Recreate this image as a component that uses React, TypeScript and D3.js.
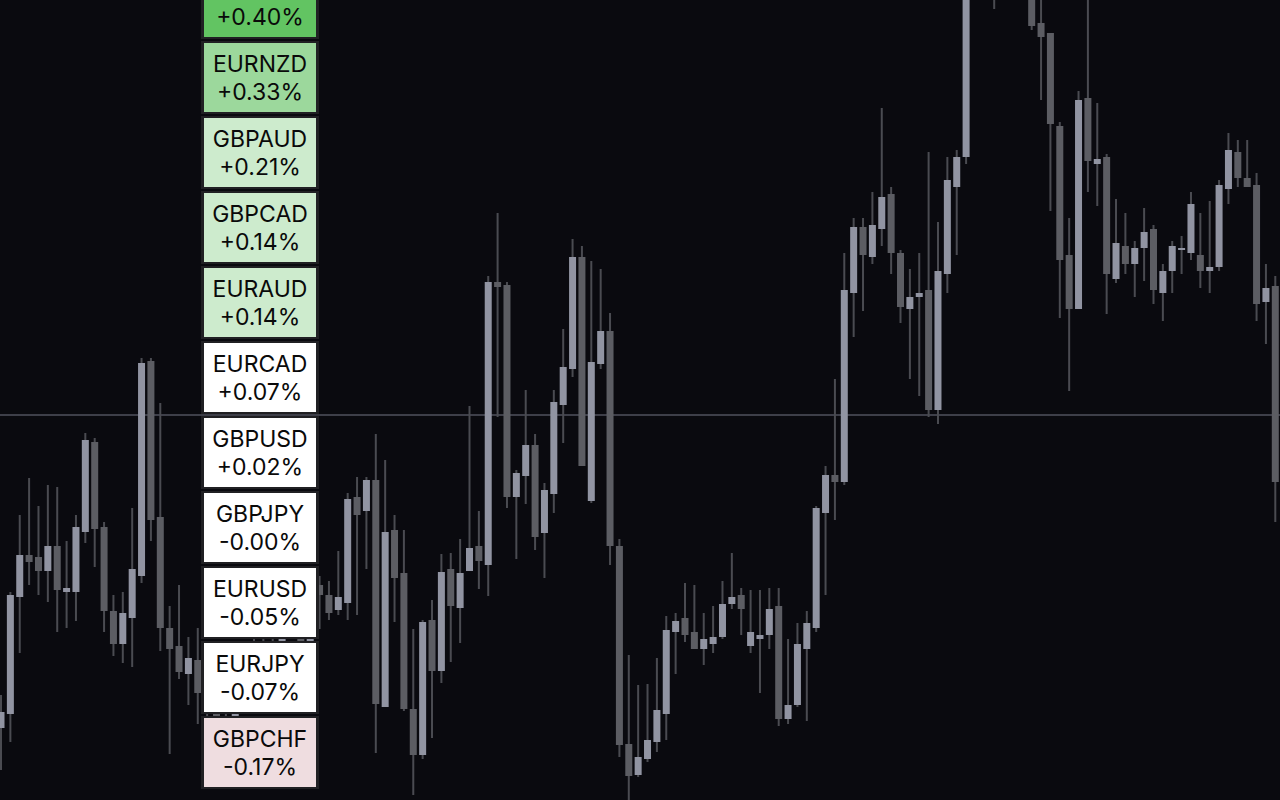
import React from "react";
import * as d3 from "d3";

// Candle prices (arbitrary price units), index = bar number from left
const opens = [
  72, 86, 203, 245, 243, 229, 254, 208, 208, 268, 358, 273, 189, 156, 182, 224, 439, 283, 172, 154,
  126, 140, 110, 94, 76, 66, 102, 132, 118, 156, 140, 172, 198, 152, 215, 205, 190, 197, 303, 289,
  320, 93, 270, 227, 91, 45, 180, 129, 231, 192, 229, 254, 235, 518, 515, 303, 324, 355, 267, 306,
  395, 431, 543, 299, 436, 469, 254, 56, 25, 41, 58, 86, 168, 182, 168, 151, 156, 163, 196, 205,
  154, 161, 165, 194, 81, 95, 151, 172, 287, 325, 318, 507, 573, 543, 571, 606, 547, 491, 503, 510,
  390, 526, 613, 643, 810, 845, 835, 850, 880, 860, 812, 777, 767, 674, 545, 491, 702, 636, 643, 521,
  554, 536, 552, 571, 507, 529, 550, 547, 545, 529, 533, 611, 648, 622, 615, 498, 514,
];
const highs = [
  105, 208, 285, 322, 294, 315, 313, 259, 285, 367, 362, 278, 205, 208, 292, 442, 442, 397, 194, 215,
  163, 172, 120, 102, 95, 110, 140, 168, 172, 175, 185, 206, 204, 218, 224, 219, 249, 307, 323, 323,
  366, 340, 285, 270, 171, 180, 200, 246, 247, 261, 394, 289, 524, 587, 518, 330, 410, 366, 317, 410,
  471, 561, 554, 539, 531, 487, 261, 145, 115, 116, 142, 184, 187, 217, 215, 187, 194, 219, 247, 212,
  210, 210, 212, 212, 161, 177, 189, 294, 334, 421, 547, 582, 582, 608, 692, 613, 550, 531, 547, 648,
  578, 643, 650, 830, 860, 880, 870, 900, 905, 880, 825, 805, 767, 678, 582, 709, 805, 697, 646, 601,
  587, 559, 592, 575, 536, 559, 564, 608, 587, 599, 620, 667, 660, 660, 627, 536, 524,
];
const lows = [
  30, 58, 147, 215, 205, 198, 168, 172, 179, 257, 233, 168, 144, 137, 133, 217, 259, 149, 46, 121,
  95, 76, 75, 72, 55, 60, 96, 110, 114, 132, 135, 166, 144, 148, 171, 180, 185, 180, 185, 231,
  47, 93, 178, 89, 5, 41, 62, 117, 138, 157, 229, 211, 204, 383, 292, 241, 296, 250, 222, 287,
  357, 423, 334, 297, 431, 235, 43, 0, 23, 38, 48, 60, 126, 158, 151, 135, 147, 161, 191, 165,
  147, 107, 151, 74, 76, 93, 79, 168, 205, 280, 315, 463, 489, 536, 554, 526, 477, 421, 404, 383,
  376, 507, 545, 636, 805, 820, 791, 830, 845, 815, 770, 700, 589, 482, 409, 491, 608, 594, 486, 517,
  526, 503, 519, 496, 479, 507, 526, 540, 512, 507, 529, 596, 613, 613, 479, 456, 278,
];
const closes = [
  88, 205, 245, 238, 229, 254, 210, 212, 273, 360, 271, 189, 156, 187, 231, 437, 280, 172, 151, 128,
  142, 107, 92, 78, 64, 102, 132, 118, 152, 140, 175, 200, 150, 210, 205, 187, 203, 301, 285, 320,
  96, 268, 222, 91, 45, 178, 129, 228, 194, 227, 252, 239, 518, 513, 303, 327, 355, 263, 310, 398,
  433, 543, 334, 438, 469, 254, 55, 24, 43, 60, 90, 170, 179, 165, 151, 161, 163, 196, 203, 191,
  168, 165, 191, 81, 95, 156, 177, 292, 325, 318, 510, 573, 545, 575, 603, 547, 493, 503, 507, 390,
  529, 620, 643, 810, 845, 835, 850, 880, 860, 830, 774, 763, 676, 540, 491, 700, 639, 641, 526, 557,
  536, 552, 568, 510, 529, 554, 552, 596, 529, 533, 615, 650, 622, 613, 496, 512, 318,
];

const referenceLevel = 385;

// Currency strength tiles
const pairs = [
  "GBPNZD", "EURNZD", "GBPAUD", "GBPCAD", "EURAUD", "EURCAD",
  "GBPUSD", "GBPJPY", "EURUSD", "EURJPY", "GBPCHF",
];
const changes = [0.40, 0.33, 0.21, 0.14, 0.14, 0.07, 0.02, -0.001, -0.05, -0.07, -0.17];
const changeLabels = [
  "+0.40%", "+0.33%", "+0.21%", "+0.14%", "+0.14%", "+0.07%",
  "+0.02%", "-0.00%", "-0.05%", "-0.07%", "-0.17%",
];

const W = 1280;
const H = 800;
const FONT = "Inter, 'Liberation Sans', Arial, sans-serif";

export default function App() {
  const n = opens.length;
  const x = d3.scaleLinear().domain([0, n - 1]).range([1, 1275.3]);
  const y = d3.scaleLinear().domain([0, 800]).range([H, 0]);

  const tileY = d3.scaleLinear().domain([0, 1]).range([-32, 43]);
  const tileColor = d3
    .scaleThreshold<number, string>()
    .domain([-0.1, 0.1, 0.3, 0.38])
    .range(["#efdde0", "#ffffff", "#cdebcd", "#9cd89c", "#62c462"]);

  const bodyW = 7;
  const wickW = 2;

  return (
    <svg
      width={W}
      height={H}
      style={{ position: "fixed", left: 0, top: 0, display: "block" }}
    >
      <rect x={0} y={0} width={W} height={H} fill="#0a0a0f" />
      <line
        x1={0}
        x2={W}
        y1={y(referenceLevel)}
        y2={y(referenceLevel)}
        stroke="#3e3f49"
        strokeWidth={2}
      />
      <g>
        {opens.map((o, i) => {
          const c = closes[i];
          const bull = c >= o;
          const cx = x(i);
          const top = y(Math.max(o, c));
          const bot = y(Math.min(o, c));
          return (
            <g key={i}>
              <rect
                x={cx - wickW / 2}
                y={y(highs[i])}
                width={wickW}
                height={Math.max(1, y(lows[i]) - y(highs[i]))}
                fill="#4a4b51"
              />
              <rect
                x={cx - bodyW / 2}
                y={top}
                width={bodyW}
                height={Math.max(2, bot - top)}
                fill={bull ? "#9194a2" : "#5c5d63"}
              />
            </g>
          );
        })}
      </g>
      <g>
        {pairs.map((p, k) => {
          const t = tileY(k);
          const nameY = t + 28.5;
          return (
            <g key={p}>
              <rect x={201} y={t - 2} width={118} height={73} fill="#202023" />
              <rect x={204} y={t} width={112} height={69} fill={tileColor(changes[k])} />
              {nameY > 0 && (
                <text
                  x={260}
                  y={nameY}
                  textAnchor="middle"
                  fontFamily={FONT}
                  fontSize={23}
                  fill="#0a0a0a"
                >
                  {p}
                </text>
              )}
              <text
                x={260}
                y={t + 56.5}
                textAnchor="middle"
                fontFamily={FONT}
                fontSize={23}
                fill="#0a0a0a"
              >
                {changeLabels[k]}
              </text>
            </g>
          );
        })}
      </g>
    </svg>
  );
}
